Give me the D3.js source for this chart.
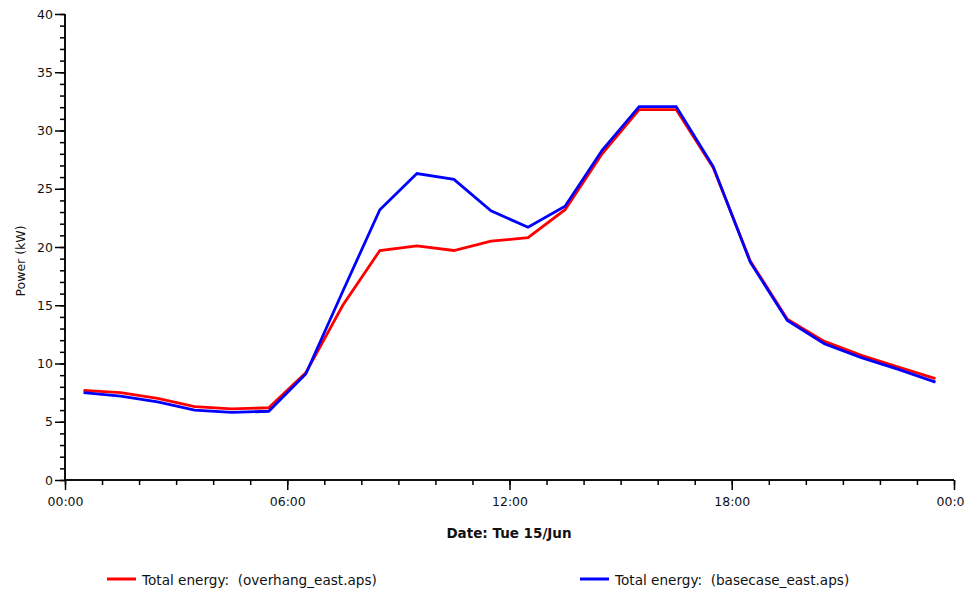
<!DOCTYPE html>
<html>
<head>
<meta charset="utf-8">
<script src="https://cdn.jsdelivr.net/npm/d3@7"></script>
<style>
  html, body { margin: 0; padding: 0; background: #fff; overflow: hidden; }
  svg { display: block; }
  text { font-family: "DejaVu Sans", Verdana, sans-serif; fill: #111; }
</style>
</head>
<body>
<svg id="chart" width="965" height="594"></svg>
<script>
// hours of day for each sample (half past each hour)
const hours = [0.5,1.5,2.5,3.5,4.5,5.5,6.5,7.5,8.5,9.5,10.5,11.5,12.5,13.5,14.5,15.5,16.5,17.5,18.5,19.5,20.5,21.5,22.5,23.5];
const overhang = [7.7,7.5,7.0,6.3,6.1,6.2,9.2,15.0,19.7,20.1,19.7,20.5,20.8,23.2,28.0,31.8,31.8,26.8,18.8,13.8,11.9,10.7,9.7,8.7];
const basecase = [7.5,7.2,6.7,6.0,5.8,5.9,9.1,16.2,23.2,26.3,25.8,23.1,21.7,23.5,28.3,32.05,32.05,26.9,18.7,13.7,11.7,10.5,9.5,8.4];
const xTickHours = [0,6,12,18,24];
const xTickLabels = ["00:00","06:00","12:00","18:00","00:00"];
const yTicks = [0,5,10,15,20,25,30,35,40];
const seriesNames = ["Total energy:  (overhang_east.aps)", "Total energy:  (basecase_east.aps)"];
const seriesColors = ["#ff0000", "#0000ff"];
const yTitle = "Power (kW)";
const xTitle = "Date: Tue 15/Jun";

const svg = d3.select("#chart");
const x = d3.scaleLinear().domain([0,24]).range([65,954]);
const y = d3.scaleLinear().domain([0,40]).range([480,14]);

// Y axis
const yAxisMajor = d3.axisLeft(y).tickValues(yTicks).tickSize(10).tickPadding(2).tickFormat(d3.format("d"));
const yAxisMinor = d3.axisLeft(y).tickValues(d3.range(0,41,1)).tickSize(5).tickFormat("");
const gy2 = svg.append("g").attr("transform","translate(65,0)").call(yAxisMinor);
const gy = svg.append("g").attr("transform","translate(65,0)").call(yAxisMajor);
[gy, gy2].forEach(g => {
  g.select(".domain").attr("stroke","#000").attr("stroke-width",1.5).attr("d","M0,14V480");
  g.selectAll(".tick line").attr("stroke","#000").attr("stroke-width",1.5);
});
gy.selectAll(".tick text").attr("font-size","12.5px").attr("fill","#111").attr("font-family","DejaVu Sans, sans-serif");

// X axis
const xAxisMajor = d3.axisBottom(x).tickValues(xTickHours).tickSize(10).tickPadding(7).tickFormat((d,i)=>xTickLabels[i]);
const xAxisMinor = d3.axisBottom(x).tickValues(d3.range(0,25,1)).tickSize(5).tickFormat("");
const gx2 = svg.append("g").attr("transform","translate(0,480)").call(xAxisMinor);
const gx = svg.append("g").attr("transform","translate(0,480)").call(xAxisMajor);
[gx, gx2].forEach(g => {
  g.select(".domain").attr("stroke","#000").attr("stroke-width",1.5).attr("d","M65,0H954");
  g.selectAll(".tick line").attr("stroke","#000").attr("stroke-width",1.5);
});
gx.selectAll(".tick text").attr("font-size","12.5px").attr("fill","#111").attr("font-family","DejaVu Sans, sans-serif");

// Lines
const line = d3.line().x((d,i)=>x(hours[i])).y(d=>y(d));
[overhang, basecase].forEach((s,k) => {
  svg.append("path").datum(s).attr("d", line).attr("fill","none")
    .attr("stroke", seriesColors[k]).attr("stroke-width",2.8).attr("stroke-linejoin","miter");
});

// Titles
svg.append("text").attr("transform","translate(25,261) rotate(-90)").attr("text-anchor","middle")
  .attr("font-size","12.5px").text(yTitle);
svg.append("text").attr("x",509).attr("y",538).attr("text-anchor","middle")
  .attr("font-size","13.5px").attr("font-weight","bold").text(xTitle);

// Legend
const legX = [107, 580];
seriesNames.forEach((n,k) => {
  svg.append("line").attr("x1",legX[k]).attr("x2",legX[k]+29).attr("y1",579).attr("y2",579)
    .attr("stroke",seriesColors[k]).attr("stroke-width",3);
  svg.append("text").attr("x",legX[k]+35).attr("y",584.5).attr("font-size","13.6px")
    .attr("xml:space","preserve").style("white-space","pre").text(n);
});
</script>
</body>
</html>
